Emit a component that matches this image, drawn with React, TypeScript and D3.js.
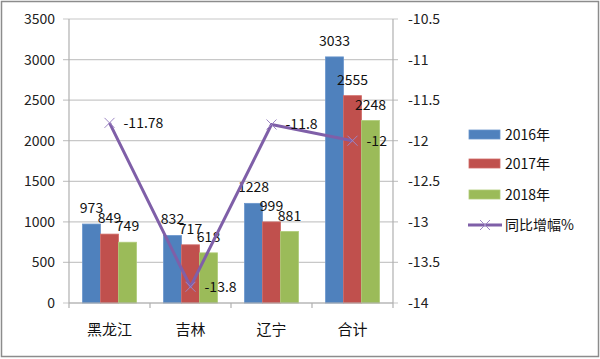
import React from 'react';
import * as d3 from 'd3';

const categories = ['黑龙江', '吉林', '辽宁', '合计'];
const seriesNames = ['2016年', '2017年', '2018年'];
const values2016 = [973, 832, 1228, 3033];
const values2017 = [849, 717, 999, 2555];
const values2018 = [749, 618, 881, 2248];
const growth = [-11.78, -13.8, -11.8, -12];
const growthName = '同比增幅%';
const leftTicks = [0, 500, 1000, 1500, 2000, 2500, 3000, 3500];
const rightTicks = [-14, -13.5, -13, -12.5, -12, -11.5, -11, -10.5];

const colors = ['#4F81BD', '#C0504D', '#9BBB59'];
const strokes = ['#6A96CC', '#D06A67', '#AFCB78'];
const lineColor = '#7F5FA8';
const font = '"Noto Sans CJK SC", "Liberation Sans", sans-serif';

const W = 600;
const H = 359;
const left = 69;
const right = 393;
const top = 19;
const bottom = 303;

const App = () => {
  const x = d3.scaleBand().domain(categories).range([left, right]);
  const inner = d3
    .scaleBand()
    .domain(seriesNames)
    .range([0, x.bandwidth()])
    .paddingOuter(0.75);
  const y = d3.scaleLinear().domain([0, 3500]).range([bottom, top]);
  const y2 = d3.scaleLinear().domain([-14, -10.5]).range([bottom, top]);
  const series = [values2016, values2017, values2018];

  const line = d3
    .line<number>()
    .x((d, i) => x(categories[i])! + x.bandwidth() / 2)
    .y(d => y2(d));

  const xMark = (cx: number, cy: number, k: string) => (
    <path
      key={k}
      d={`M${cx - 5},${cy - 5}L${cx + 5},${cy + 5}M${cx - 5},${cy + 5}L${cx + 5},${cy - 5}`}
      stroke="#9D86C4"
      strokeWidth={1}
      fill="none"
    />
  );

  const legendY = [135, 164, 195, 225];

  return (
    <svg
      width={W}
      height={H}
      style={{ position: 'absolute', left: 0, top: 0, fontFamily: font }}>
      <rect x={0} y={0} width={W} height={H} fill="#fff" />
      <rect x={1.5} y={1.5} width={597} height={355} fill="none" stroke="#8c8c8c" strokeWidth={1.5} />
      {leftTicks.map(t => (
        <g key={`g${t}`}>
          <line x1={left - 6} x2={right + 5} y1={y(t)} y2={y(t)} stroke="#c8c8c8" strokeWidth={1.2} />
          <text x={left - 14} y={y(t) + 5} fontSize={14} textAnchor="end" fill="#222">
            {t}
          </text>
        </g>
      ))}
      {rightTicks.map(t => (
        <text key={`r${t}`} x={408} y={y2(t) + 5} fontSize={14} fill="#222">
          {t}
        </text>
      ))}
      <line x1={left} x2={left} y1={top} y2={bottom} stroke="#b0b0b0" strokeWidth={1.2} />
      <line x1={right} x2={right} y1={top} y2={bottom} stroke="#b0b0b0" strokeWidth={1.2} />
      {categories.map(c => (
        <line
          key={`t${c}`}
          x1={x(c)!}
          x2={x(c)!}
          y1={bottom}
          y2={bottom + 5}
          stroke="#b0b0b0"
          strokeWidth={1.2}
        />
      ))}
      <line x1={right} x2={right} y1={bottom} y2={bottom + 5} stroke="#b0b0b0" strokeWidth={1.2} />
      {series.map((vals, s) =>
        vals.map((v, i) => {
          const bx = x(categories[i])! + inner(seriesNames[s])!;
          return (
            <rect
              key={`b${s}-${i}`}
              x={bx}
              y={y(v)}
              width={inner.bandwidth()}
              height={bottom - y(v)}
              fill={colors[s]}
              stroke={strokes[s]}
              strokeWidth={0.8}
            />
          );
        })
      )}
      <line x1={left} x2={right} y1={bottom} y2={bottom} stroke="#b0b0b0" strokeWidth={1.2} />
      {series.map((vals, s) =>
        vals.map((v, i) => {
          const bx = x(categories[i])! + inner(seriesNames[s])! + inner.bandwidth() / 2;
          return (
            <text
              key={`l${s}-${i}`}
              x={bx}
              y={y(v) - 11}
              fontSize={14}
              textAnchor="middle"
              fill="#111">
              {v}
            </text>
          );
        })
      )}
      <path d={line(growth) || ''} fill="none" stroke={lineColor} strokeWidth={3} strokeLinejoin="round" />
      {growth.map((g, i) => xMark(x(categories[i])! + x.bandwidth() / 2, y2(g), `m${i}`))}
      {growth.map((g, i) => (
        <text
          key={`gl${i}`}
          x={x(categories[i])! + x.bandwidth() / 2 + 14}
          y={y2(g) + 5}
          fontSize={14}
          fill="#111">
          {g}
        </text>
      ))}
      {categories.map(c => (
        <text
          key={`c${c}`}
          x={x(c)! + x.bandwidth() / 2}
          y={335}
          fontSize={15}
          textAnchor="middle"
          fill="#111">
          {c}
        </text>
      ))}
      {seriesNames.map((n, s) => (
        <g key={`lg${n}`}>
          <rect x={469} y={legendY[s] - 5} width={31} height={9} fill={colors[s]} stroke={strokes[s]} strokeWidth={0.8} />
          <text x={505} y={legendY[s] + 5} fontSize={14} fill="#111">
            {n}
          </text>
        </g>
      ))}
      <line x1={468} x2={502} y1={legendY[3]} y2={legendY[3]} stroke={lineColor} strokeWidth={3} />
      {xMark(485, legendY[3], 'lgm')}
      <text x={505} y={legendY[3] + 5} fontSize={14} fill="#111">
        {growthName}
      </text>
    </svg>
  );
};

export default App;
